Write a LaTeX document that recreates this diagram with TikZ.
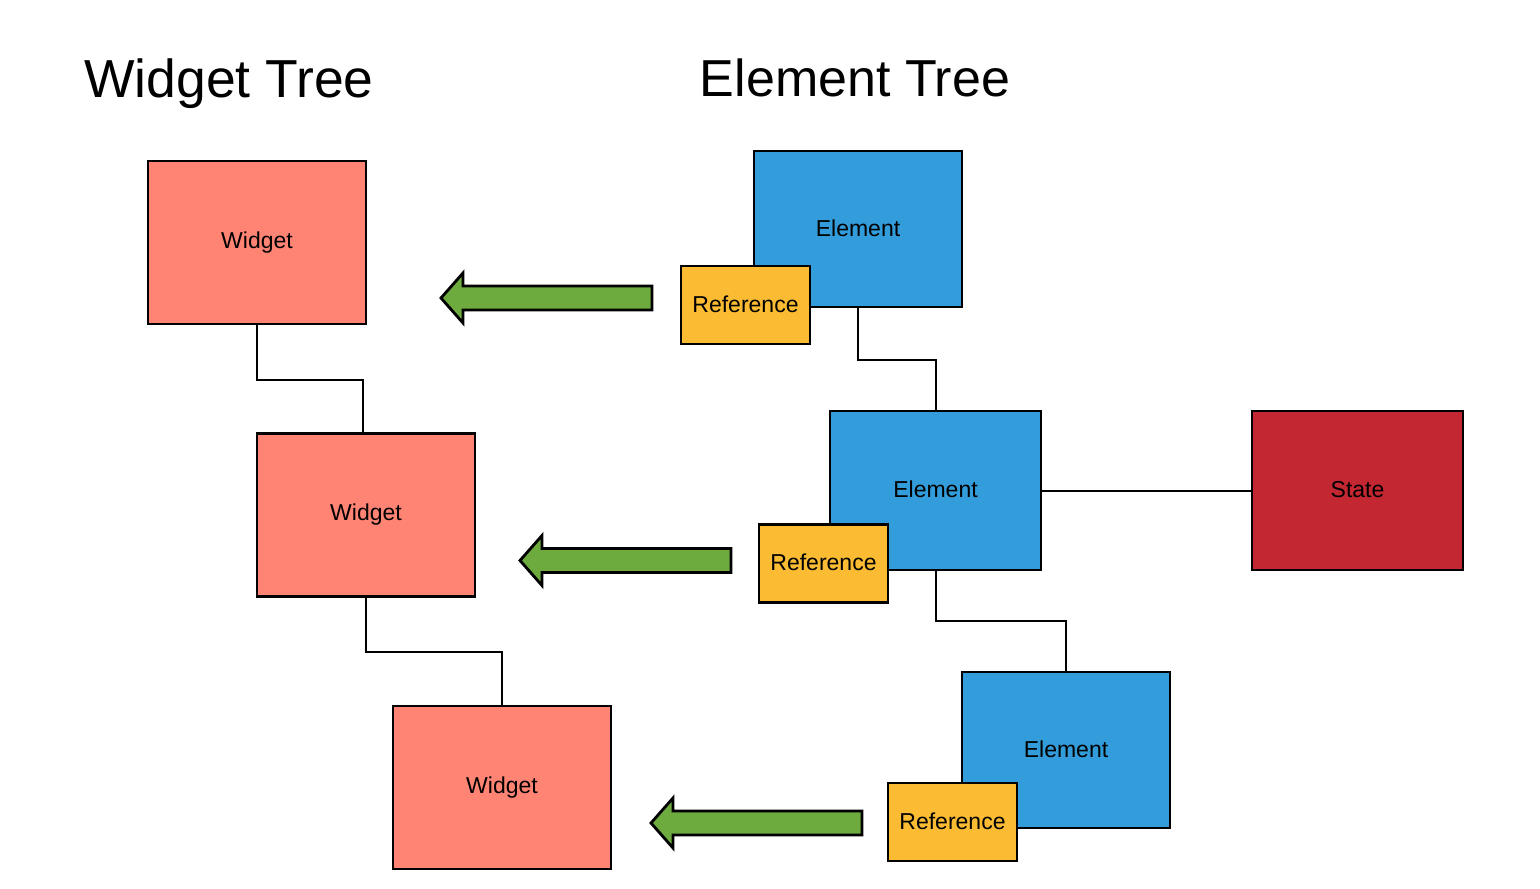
\documentclass[tikz,border=0pt]{standalone}
\usepackage{fontspec}
\setmainfont{Liberation Sans}
\usepackage{tikz}
\usepackage[dvipsnames]{xcolor}

\definecolor{widgetred}{HTML}{FF8474}
\definecolor{elementblue}{HTML}{339CDB}
\definecolor{refyellow}{HTML}{FBBC33}
\definecolor{statered}{HTML}{C22732}
\definecolor{arrowgreen}{HTML}{6DAB3F}

\begin{document}
\begin{tikzpicture}[x=1pt, y=-1pt,
    box/.style={draw=black, line width=2.8pt, inner sep=0pt, font=\fontsize{23}{27}\selectfont},
    widgetbox/.style={box, fill=widgetred, minimum width=218pt, minimum height=163pt},
    elementbox/.style={box, fill=elementblue, minimum width=208pt, minimum height=156pt},
    refbox/.style={box, fill=refyellow, minimum width=129pt, minimum height=78pt},
    link/.style={draw=black, line width=2pt},
    title/.style={font=\fontsize{52}{60}\selectfont}]
      \useasboundingbox (0,0) rectangle (1540,889);

      % Titles
      \node[title, font=\fontsize{53.5}{60}\selectfont] (wtitle) at (229,84) {Widget Tree};
      \node[title] (etitle) at (855,78) {Element Tree};

      % Widget tree
      \node[widgetbox] (w1) at (257,242.5) {Widget};
      \node[widgetbox] (w2) at (366,515) {Widget};
      \node[widgetbox] (w3) at (502,787.5) {Widget};

      % Element tree with references
      \node[elementbox] (e1) at (858,229) {\raisebox{2pt}{Element}};
      \node[refbox] (r1) at (745.5,305) {\raisebox{2pt}{Reference}};
      \node[elementbox, minimum width=211pt, minimum height=159pt] (e2) at (935.5,490.5) {\raisebox{2pt}{Element}};
      \node[refbox] (r2) at (823.5,563.5) {\raisebox{2pt}{Reference}};
      \node[elementbox] (e3) at (1066,750) {\raisebox{2pt}{Element}};
      \node[refbox] (r3) at (952.5,822) {\raisebox{2pt}{Reference}};

      % State
      \node[box, fill=statered, minimum width=211pt, minimum height=159pt] (s) at (1357.5,490.5) {\raisebox{2pt}{State}};

      % Tree links
      \coordinate (w2in) at (363,433);
      \draw[link] (w1.south) -- ++(0,55) -| (w2in);
      \draw[link] (w2.south) -- ++(0,54) -| (w3.north);
      \draw[link] (e1.south) -- ++(0,52) -| (e2.north);
      \draw[link] (e2.south) -- ++(0,50) -| (e3.north);
      \draw[link] (e2.east) -- (s.west);

      % Green arrows pointing from reference to widget
      \foreach \tip/\y in {441/298, 520/560.5, 651/823} {
          \draw[fill=arrowgreen, line width=2.8pt, line join=miter]
              (\tip,\y) -- (\tip+22,\y-25) -- (\tip+22,\y-12) -- (\tip+211,\y-12)
              -- (\tip+211,\y+12) -- (\tip+22,\y+12) -- (\tip+22,\y+25) -- cycle;
      }

  \end{tikzpicture}
\end{document}
